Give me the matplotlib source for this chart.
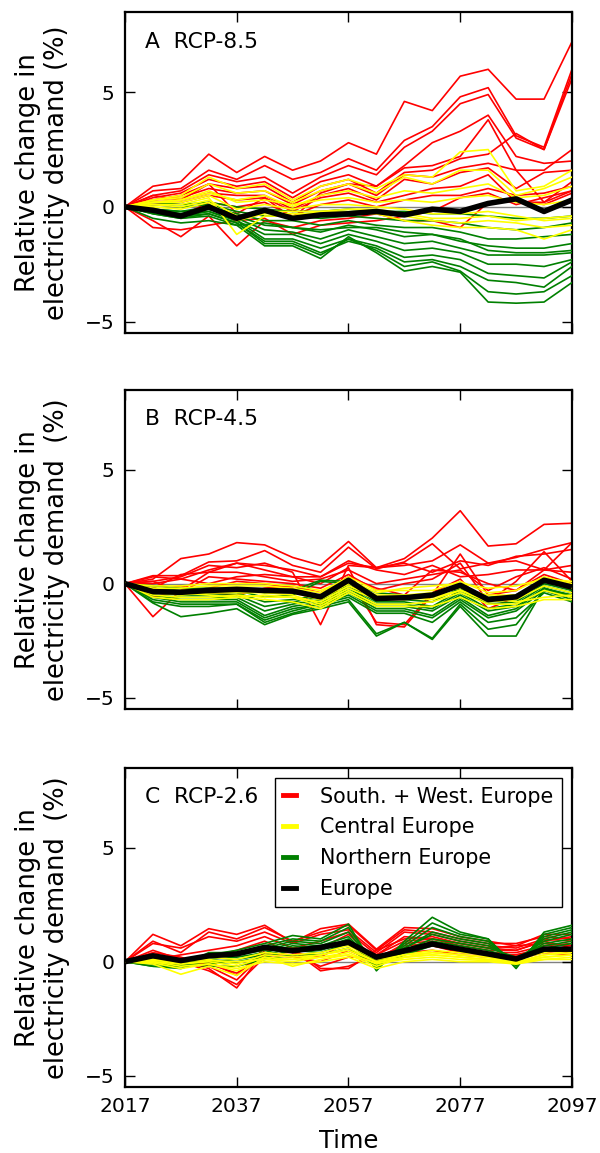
import matplotlib
matplotlib.use("Agg")
import matplotlib.pyplot as plt
from matplotlib.lines import Line2D

years = list(range(2017, 2098, 5))

# ---------------- RCP-8.5 ----------------
red_a = [
    [0, 0.9, 1.1, 2.3, 1.5, 2.2, 1.6, 2.0, 2.8, 2.3, 4.6, 4.2, 5.7, 6.0, 4.7, 4.7, 7.2],
    [0, 0.7, 0.8, 1.6, 1.2, 1.8, 1.2, 1.5, 2.1, 1.6, 2.9, 3.5, 4.8, 5.2, 3.1, 2.6, 6.0],
    [0, 0.5, 0.7, 1.4, 1.1, 1.3, 0.6, 1.3, 1.8, 1.4, 2.6, 3.3, 4.5, 4.9, 3.0, 2.5, 5.6],
    [0, 0.4, 0.6, 1.2, 0.9, 1.1, 0.4, 1.1, 1.4, 0.9, 1.7, 1.8, 2.2, 3.8, 1.6, 0.2, 0.7],
    [0, 0.3, 0.5, 1.0, 0.8, 0.9, 0.2, 0.9, 1.2, 0.6, 1.5, 1.6, 2.1, 2.3, 3.2, 2.5, 5.8],
    [0, 0.3, 0.4, 0.8, 0.6, 0.7, 0.1, 0.7, 1.0, 0.5, 1.4, 1.3, 1.7, 1.9, 1.6, 1.6, 2.5],
    [0, 0.2, 0.3, 0.6, 0.5, 0.5, -0.1, 0.5, 0.8, 0.3, 1.2, 1.0, 1.5, 1.7, 0.8, 1.5, 1.6],
    [0, 0.1, 0.2, 0.5, 0.3, 0.4, -0.2, 0.4, 0.6, 0.2, 0.5, 0.8, 0.9, 1.4, 0.2, 0.2, 1.1],
    [0, -0.2, -0.4, 0.2, 0.0, 0.2, -0.4, 0.1, 0.3, 0.0, 0.3, 0.5, 0.5, 0.8, 0.5, 0.6, 0.9],
    [0, -0.6, -1.3, -0.4, -1.7, -0.6, -0.9, -0.6, -0.5, -0.3, -0.6, -0.6, -0.9, 0.2, 0.3, 0.1, 0.6],
    [0, -0.9, -1.0, -0.8, -0.6, -0.5, -1.2, -0.8, -0.7, -0.6, -0.4, -0.2, 0.4, 0.6, 0.1, 0.4, 0.7],
    [0, 0.5, 0.3, 1.0, -0.3, 0.4, -0.5, 0.6, 1.0, 0.9, 1.8, 2.8, 3.3, 4.0, 2.2, 1.9, 2.0],
]
yellow_a = [
    [0, 0.3, 0.5, 1.3, 0.8, 1.0, 0.3, 0.9, 1.2, 0.8, 1.4, 1.3, 2.4, 2.5, 0.7, 0.9, 1.6],
    [0, 0.3, 0.4, 1.0, 0.6, 0.7, 0.2, 0.7, 1.0, 0.6, 1.3, 1.0, 1.6, 1.6, 0.5, 0.8, 1.3],
    [0, 0.2, 0.3, 0.6, 0.3, 0.5, 0.0, 0.5, 0.7, 0.4, 0.7, 0.6, 0.8, 1.0, 0.4, 0.5, 0.9],
    [0, 0.1, 0.1, 0.4, -1.2, -0.4, -0.4, -0.2, -0.1, -0.1, -0.3, -0.5, -0.5, -0.4, -0.6, -0.5, -0.4],
    [0, 0.0, -0.1, 0.2, -0.6, -0.3, -0.3, -0.3, -0.3, -0.3, -0.6, -0.8, -0.9, -0.9, -1.0, -1.4, -1.0],
    [0, 0.1, 0.0, 0.3, -0.4, -0.2, -0.2, -0.2, -0.2, -0.2, -0.4, -0.6, -0.7, -0.6, -0.7, -0.9, -0.8],
    [0, 0.2, 0.2, 0.5, -0.1, 0.1, -0.1, 0.1, 0.1, 0.0, -0.1, -0.3, -0.3, -0.2, -0.4, -0.6, -0.5],
    [0, 0.2, 0.3, 0.7, 0.2, 0.3, 0.1, 0.3, 0.4, 0.2, 0.3, 0.2, 0.4, 0.5, 0.2, 0.1, 0.3],
]
green_a = [
    [0, -0.3, -0.5, -0.4, -0.8, -1.7, -1.7, -2.25, -1.3, -2.0, -2.8, -2.6, -2.85, -4.15, -4.2, -4.15, -3.3],
    [0, -0.3, -0.5, -0.3, -0.7, -1.6, -1.6, -2.1, -1.4, -1.9, -2.6, -2.4, -2.8, -3.7, -3.8, -3.7, -3.0],
    [0, -0.2, -0.4, -0.3, -0.7, -1.5, -1.5, -2.0, -1.5, -1.8, -2.4, -2.3, -2.6, -3.2, -3.3, -3.5, -2.6],
    [0, -0.2, -0.4, -0.2, -0.6, -1.4, -1.4, -1.8, -1.4, -1.7, -2.2, -2.1, -2.3, -2.9, -3.0, -3.1, -2.4],
    [0, -0.2, -0.3, -0.2, -0.6, -1.2, -1.2, -1.6, -1.2, -1.5, -1.9, -1.8, -2.0, -2.5, -2.5, -2.6, -2.3],
    [0, -0.1, -0.3, -0.1, -0.5, -1.0, -1.1, -1.4, -1.0, -1.3, -1.6, -1.5, -1.8, -2.1, -2.1, -2.1, -2.0],
    [0, -0.1, -0.2, -0.1, -0.4, -0.8, -0.9, -1.1, -0.8, -1.0, -1.3, -1.2, -1.5, -1.7, -1.8, -1.8, -1.6],
    [0, -0.1, -0.2, 0.0, -0.3, -0.6, -0.6, -0.8, -0.6, -0.8, -0.9, -0.9, -1.1, -1.4, -1.4, -1.3, -1.2],
    [0, 0.1, 0.0, 0.1, -0.2, -0.4, -0.4, -0.5, -0.4, -0.5, -0.6, -0.6, -0.7, -0.9, -1.0, -0.9, -0.7],
    [0, 0.2, 0.1, 0.2, 0.0, -0.1, -0.2, -0.2, -0.1, -0.2, -0.2, -0.3, -0.3, -0.4, -0.5, -0.5, -0.4],
    [0, -0.5, -0.7, -0.6, -0.8, -0.7, -0.9, -1.0, -0.9, -0.9, -1.1, -1.2, -1.4, -1.9, -2.0, -2.0, -1.9],
]
europe_a = [0, -0.15, -0.4, 0.0, -0.5, -0.15, -0.5, -0.35, -0.3, -0.2, -0.35, -0.1, -0.2, 0.15, 0.35, -0.2, 0.3]

# ---------------- RCP-4.5 ----------------
red_b = [
    [0, 0.2, 1.1, 1.3, 1.8, 1.7, 1.15, 0.8, 1.85, 0.7, 1.1, 2.0, 3.2, 1.65, 1.75, 2.6, 2.65],
    [0, 0.35, 0.35, 0.95, 1.0, 1.45, 0.8, 0.5, 1.6, 0.65, 0.95, 1.75, 0.65, 0.9, 1.15, 1.5, 1.8],
    [0, -1.45, -0.3, 0.5, 0.9, 0.8, 0.6, 0.3, 0.9, 0.7, 0.8, 1.0, 1.7, 0.9, 1.0, 0.6, 1.8],
    [0, 0.1, 0.3, 0.8, 0.7, 0.9, 0.5, -1.8, 0.8, 0.7, 0.9, 0.5, 1.0, 0.8, 1.2, 1.3, 1.5],
    [0, 0.0, 0.2, 0.6, 0.9, 0.6, 0.3, 0.0, 0.7, -1.8, -1.9, -0.5, 1.3, -0.5, -0.3, 0.6, 0.5],
    [0, -0.2, 0.4, 0.5, 0.5, 0.3, 0.1, 0.2, 0.6, 0.0, 0.2, 0.4, 0.6, -0.3, 0.3, 0.7, 0.2],
    [0, 0.1, -0.4, 0.3, 0.2, 0.1, 0.0, -0.2, 0.4, -0.3, 0.0, 0.2, 0.9, -0.8, 0.1, 1.4, 0.1],
    [0, -0.3, -0.1, -0.4, -0.5, -0.2, -0.1, -0.4, 0.3, -0.2, -0.5, 0.6, 0.5, 0.0, -0.3, 0.4, 0.0],
    [0, 0.3, 0.2, 0.0, 0.3, 0.4, 0.3, 0.3, 1.0, 0.6, 0.4, 0.8, 0.3, 0.4, 0.6, 0.6, 0.8],
    [0, -0.6, -0.3, -0.2, 0.1, 0.0, -0.2, -0.6, 0.2, -1.7, -1.8, -0.4, 0.2, -1.1, -0.6, 0.2, -0.3],
]
yellow_b = [
    [0, -0.2, -0.2, -0.1, -0.1, -0.1, -0.2, -0.4, 0.3, -0.3, -0.3, -0.3, 0.1, -0.4, -0.3, 0.3, 0.0],
    [0, -0.3, -0.3, -0.3, -0.2, -0.3, -0.4, -0.7, 0.0, -0.5, -0.5, -0.4, -0.2, -0.5, -0.5, 0.1, -0.2],
    [0, -0.4, -0.5, -0.4, -0.4, -0.4, -0.5, -0.9, -0.2, -0.7, -0.7, -0.6, -0.3, -0.8, -0.7, -0.1, -0.4],
    [0, -0.5, -0.6, -0.6, -0.5, -0.6, -0.6, -1.0, -0.3, -0.9, -0.9, -0.8, -0.4, -0.9, -0.9, -0.3, -0.6],
    [0, -0.6, -0.7, -0.7, -0.6, -0.7, -0.8, -1.1, -0.4, -1.0, -1.0, -1.0, -0.6, -1.1, -1.0, -0.7, -0.7],
    [0, -0.1, -0.1, 0.0, 0.0, 0.0, -0.1, -0.3, 0.2, -0.4, -0.2, -0.1, 0.0, -0.2, -0.1, 0.2, 0.1],
    [0, -0.4, -0.4, -0.5, -0.6, -0.5, -0.6, -0.8, -0.1, -0.6, -0.6, -0.7, -0.3, -0.6, -0.8, -0.6, -0.5],
]
green_b = [
    [0, -0.85, -1.45, -1.3, -1.1, -1.8, -1.35, -1.1, -0.8, -2.3, -1.7, -2.45, -1.0, -2.3, -2.3, -0.2, -0.6],
    [0, -0.8, -1.0, -1.0, -0.9, -1.7, -1.3, -1.0, -0.7, -2.2, -1.7, -2.4, -0.9, -2.0, -1.8, -0.3, -0.7],
    [0, -0.7, -0.9, -0.9, -0.9, -1.6, -1.2, -0.9, -0.6, -1.3, -1.3, -1.7, -0.8, -1.7, -1.5, -0.4, -0.8],
    [0, -0.6, -0.8, -0.8, -0.8, -1.5, -1.1, -0.9, -0.5, -1.2, -1.2, -1.5, -0.7, -1.5, -1.2, -0.3, -0.5],
    [0, -0.5, -0.7, -0.7, -0.7, -1.4, -1.0, -0.8, -0.4, -1.1, -1.1, -1.4, -0.6, -1.4, -1.1, -0.2, -0.6],
    [0, -0.5, -0.6, -0.6, -0.6, -1.2, -0.9, -0.7, -0.3, -1.0, -1.0, -1.2, -0.5, -1.2, -1.0, -0.2, -0.5],
    [0, -0.4, -0.5, -0.5, -0.5, -1.0, -0.8, -0.6, -0.2, -0.9, -0.9, -1.1, -0.4, -1.1, -0.9, -0.1, -0.4],
    [0, -0.3, -0.4, -0.4, -0.4, -0.8, -0.7, -0.5, -0.1, -0.8, -0.8, -1.0, -0.3, -0.9, -0.8, 0.0, -0.3],
    [0, -0.2, -0.3, -0.3, -0.3, -0.6, -0.5, 0.1, 0.0, -0.6, -0.7, -0.8, -0.2, -0.8, -0.7, 0.1, -0.2],
    [0, -0.1, -0.2, -0.2, -0.2, -0.4, -0.3, 0.15, 0.1, -0.4, -0.5, -0.6, -0.1, -0.6, -0.5, 0.15, -0.1],
]
europe_b = [0, -0.35, -0.38, -0.3, -0.25, -0.3, -0.33, -0.58, 0.15, -0.65, -0.62, -0.5, -0.07, -0.7, -0.58, 0.15, -0.15]

# ---------------- RCP-2.6 ----------------
red_c = [
    [0, 1.2, 0.7, 1.45, 1.2, 1.6, 0.85, 1.45, 1.65, 0.55, 1.5, 1.45, 1.1, 0.9, 0.7, 1.2, 1.2],
    [0, 0.9, 0.4, 1.3, 1.0, 1.5, 0.9, 1.3, 1.6, 0.5, 1.4, 1.3, 1.0, 0.8, 0.8, 1.1, 1.0],
    [0, 0.8, 0.6, 1.1, 0.9, 1.3, 0.8, 1.2, 1.4, 0.4, 1.3, 1.2, 0.9, 0.7, 0.6, 1.0, 0.9],
    [0, 0.5, 0.1, -0.3, -1.15, 0.5, 0.6, -0.3, -0.3, 0.5, 1.0, 1.1, 0.8, 0.6, 0.7, 0.8, 0.7],
    [0, 0.3, 0.0, -0.4, -1.0, 0.2, 0.5, -0.4, -0.2, 0.3, 0.9, 1.0, 0.7, 0.5, 0.5, 0.9, 0.6],
    [0, 0.4, 0.2, -0.2, -0.8, 0.4, 0.3, -0.2, 0.2, 0.2, 0.7, 0.8, 0.6, 0.4, 0.4, 0.7, 0.8],
    [0, 0.2, 0.1, 0.2, 0.5, 0.9, 0.4, 0.6, 1.2, 0.1, 0.8, 0.9, 0.5, 0.3, 0.3, 0.6, 0.5],
    [0, 0.1, 0.3, 0.5, 0.7, 1.1, 0.6, 0.9, 1.3, 0.3, 1.1, 1.0, 0.8, 0.6, 0.5, 0.9, 1.1],
    [0, 0.2, 0.0, -0.1, -0.5, 0.3, 0.2, 0.0, 0.5, 0.0, 0.4, 0.5, 0.3, 0.2, 0.1, 0.4, 0.3],
    [0, 0.3, 0.1, 0.0, -0.6, 0.6, 0.4, 0.2, 0.9, 0.2, 0.6, 0.7, 0.4, 0.3, 0.3, 0.5, 0.4],
]
yellow_c = [
    [0, -0.1, -0.55, -0.2, -0.6, 0.2, -0.2, 0.1, 0.3, -0.2, 0.2, 0.3, 0.2, 0.1, -0.1, 0.2, 0.3],
    [0, 0.0, -0.2, -0.1, -0.4, 0.1, 0.0, 0.2, 0.4, -0.1, 0.2, 0.4, 0.3, 0.2, -0.05, 0.3, 0.4],
    [0, 0.1, -0.1, 0.0, -0.2, 0.2, 0.1, 0.3, 0.5, 0.0, 0.3, 0.4, 0.3, 0.2, 0.0, 0.3, 0.5],
    [0, 0.05, 0.0, 0.1, -0.1, 0.3, 0.2, 0.3, 0.6, 0.0, 0.2, 0.3, 0.2, 0.1, 0.0, 0.2, 0.3],
    [0, 0.0, -0.1, 0.05, 0.0, 0.1, 0.1, 0.2, 0.3, -0.05, 0.1, 0.2, 0.1, 0.05, -0.05, 0.1, 0.2],
    [0, 0.1, 0.0, 0.2, 0.1, 0.4, 0.3, 0.4, 0.7, 0.1, 0.3, 0.5, 0.4, 0.3, 0.1, 0.4, 0.6],
    [0, -0.05, -0.3, -0.1, -0.3, 0.0, -0.1, 0.0, 0.2, -0.3, 0.0, 0.1, 0.0, 0.0, -0.1, 0.1, 0.1],
]
green_c = [
    [0, 0.1, -0.2, 0.3, 0.5, 0.8, 1.15, 1.0, 1.65, -0.4, 0.9, 1.95, 1.3, 1.0, -0.3, 1.3, 1.6],
    [0, 0.0, -0.2, 0.4, 0.4, 0.7, 1.0, 0.9, 1.5, -0.3, 0.8, 1.7, 1.2, 1.0, -0.2, 1.2, 1.5],
    [0, 0.1, -0.1, 0.3, 0.4, 0.6, 0.9, 0.8, 1.3, -0.2, 0.7, 1.5, 1.1, 0.9, -0.1, 1.1, 1.4],
    [0, -0.1, -0.2, 0.2, 0.3, 0.5, 0.8, 0.7, 1.1, -0.1, 0.6, 1.3, 1.0, 0.8, 0.0, 1.0, 1.3],
    [0, -0.2, -0.3, 0.1, 0.2, 0.4, 0.7, 0.6, 1.0, 0.0, 0.6, 1.2, 0.9, 0.7, 0.1, 0.9, 1.2],
    [0, -0.2, -0.2, -0.1, 0.0, 0.2, 0.5, 0.4, 0.8, -0.1, 0.4, 0.9, 0.7, 0.5, 0.1, 0.8, 1.0],
    [0, 0.2, -0.1, 0.0, 0.1, 0.3, 0.6, 0.5, 0.9, 0.1, 0.5, 1.0, 0.8, 0.6, 0.2, 0.7, 0.9],
    [0, 0.0, -0.1, -0.2, -0.2, 0.1, 0.3, 0.3, 0.6, -0.2, 0.3, 0.7, 0.5, 0.4, 0.0, 0.6, 0.8],
]
europe_c = [0, 0.26, 0.05, 0.26, 0.34, 0.63, 0.48, 0.63, 0.85, 0.2, 0.48, 0.78, 0.55, 0.34, 0.12, 0.55, 0.55]

panel_titles = ["A  RCP-8.5", "B  RCP-4.5", "C  RCP-2.6"]
ylabels = ["Relative change in\nelectricity demand (%)",
           "Relative change in\nelectricity demand  (%)",
           "Relative change in\nelectricity demand  (%)"]
legend_labels = ["South. + West. Europe", "Central Europe", "Northern Europe", "Europe"]
xticks = [2017, 2037, 2057, 2077, 2097]
yticks = [-5, 0, 5]

RED, YELLOW, GREEN, BLACK = "#ff0000", "#ffff00", "#008000", "#000000"

panels = [
    (red_a, yellow_a, green_a, europe_a),
    (red_b, yellow_b, green_b, europe_b),
    (red_c, yellow_c, green_c, europe_c),
]

fig = plt.figure(figsize=(6.0, 11.53), dpi=100)
axes_boxes = [
    (0.2083, 0.7112, 0.745, 0.2784),
    (0.2083, 0.3851, 0.745, 0.2767),
    (0.2083, 0.0572, 0.745, 0.2767),
]

for k, (box, (reds, yellows, greens, europe)) in enumerate(zip(axes_boxes, panels)):
    ax = fig.add_axes(box)
    ax.axhline(0, color="grey", lw=1.0, zorder=1)
    for series in reds:
        ax.plot(years, series, color=RED, lw=1.2, zorder=2)
    for series in greens:
        ax.plot(years, series, color=GREEN, lw=1.2, zorder=3)
    for series in yellows:
        ax.plot(years, series, color=YELLOW, lw=1.2, zorder=4)
    ax.plot(years, europe, color=BLACK, lw=4.0, zorder=5, solid_capstyle="butt")

    ax.set_xlim(2017, 2097)
    ax.set_ylim(-5.5, 8.5)
    ax.set_xticks(xticks)
    ax.set_yticks(yticks)
    ax.tick_params(direction="in", length=7, width=1, top=True, right=True,
                   labelsize=14.6, pad=7.5)
    for sp in ax.spines.values():
        sp.set_linewidth(1.6)
    ax.set_ylabel(ylabels[k], fontsize=18.5, labelpad=11, linespacing=1.15)
    ax.text(0.045, 0.908, panel_titles[k], transform=ax.transAxes,
            fontsize=15.7, va="center", ha="left")
    if k < 2:
        ax.tick_params(labelbottom=False)
    else:
        ax.set_xlabel("Time", fontsize=17.5, labelpad=9)
        handles = [Line2D([], [], color=c, lw=3.5) for c in (RED, YELLOW, GREEN, BLACK)]
        leg = ax.legend(handles, legend_labels, loc="upper right", fontsize=14.9,
                        handlelength=0.65, handletextpad=1.15, fancybox=False,
                        framealpha=1, edgecolor="black", borderpad=0.4,
                        labelspacing=0.52, borderaxespad=0.5)
        leg.get_frame().set_linewidth(1.0)

fig.savefig("out.png", dpi=100)
